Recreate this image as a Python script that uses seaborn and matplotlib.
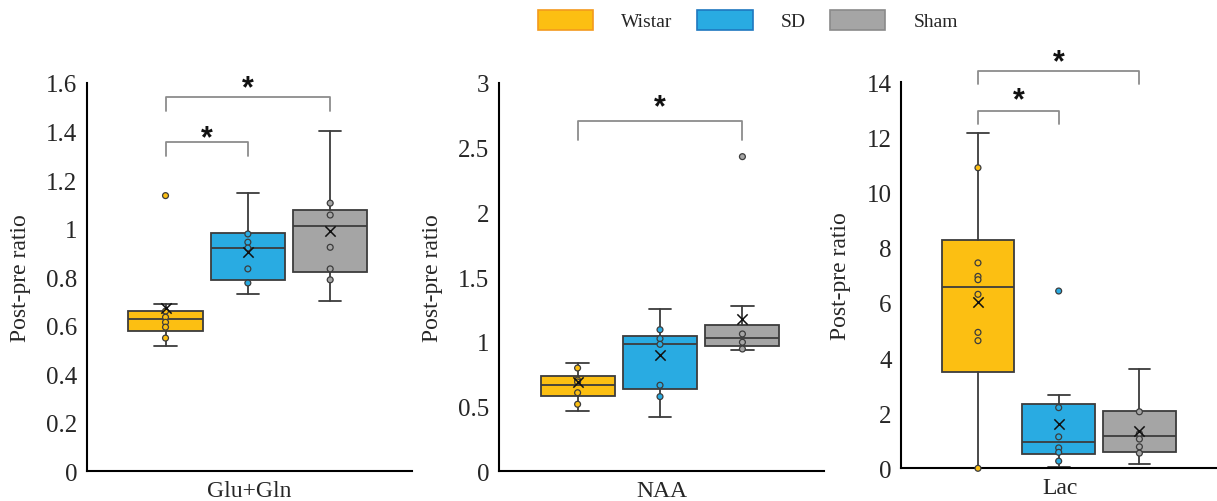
import numpy as np
import pandas as pd
import matplotlib
matplotlib.use("Agg")
import matplotlib.pyplot as plt
from matplotlib.patches import Patch
from matplotlib.ticker import FuncFormatter, MultipleLocator
import seaborn as sns

groups = ["Wistar", "SD", "Sham"]
box_colors = ["#FCBF12", "#29ABE2", "#A5A5A5"]
legend_edges = ["#F39A1E", "#1F78C0", "#8A8A8A"]
metabolites = ["Glu+Gln", "NAA", "Lac"]

# box statistics (Excel style), order: Wistar, SD, Sham
glx_low = [0.515, 0.730, 0.701]
glx_q1 = [0.580, 0.790, 0.823]
glx_med = [0.628, 0.919, 1.011]
glx_q3 = [0.662, 0.981, 1.077]
glx_high = [0.689, 1.148, 1.404]
glx_mean = [0.672, 0.905, 0.992]

naa_low = [0.469, 0.422, 0.940]
naa_q1 = [0.579, 0.639, 0.966]
naa_med = [0.667, 0.986, 1.028]
naa_q3 = [0.739, 1.046, 1.131]
naa_high = [0.840, 1.252, 1.278]
naa_mean = [0.688, 0.896, 1.179]

lac_low = [0.0, 0.05, 0.15]
lac_q1 = [3.49, 0.51, 0.60]
lac_med = [6.58, 0.95, 1.18]
lac_q3 = [8.29, 2.32, 2.07]
lac_high = [12.17, 2.67, 3.59]
lac_mean = [6.02, 1.60, 1.36]

# individual points (inner points and outliers)
glx_wistar = [1.136, 0.660, 0.635, 0.614, 0.594, 0.549]
glx_sd = [0.978, 0.944, 0.920, 0.834, 0.776]
glx_sham = [1.105, 1.056, 0.923, 0.834, 0.789]

naa_wistar = [0.798, 0.705, 0.690, 0.607, 0.518]
naa_sd = [1.094, 1.025, 0.981, 0.665, 0.577]
naa_sham = [2.431, 1.061, 0.997, 0.945]

lac_wistar = [10.9, 7.45, 6.96, 6.84, 6.31, 4.93, 4.63, 0.0]
lac_sd = [6.43, 2.20, 1.14, 0.74, 0.58, 0.26]
lac_sham = [2.05, 1.26, 1.06, 0.78, 0.55]

# significance brackets: (group a, group b, bar height, end height, star height)
glx_brackets = [(0, 1, 1.356, 1.300, 1.407), (0, 2, 1.544, 1.486, 1.610)]
naa_brackets = [(0, 2, 2.707, 2.560, 2.872)]
lac_brackets = [(0, 1, 12.97, 12.49, 13.64), (0, 2, 14.40, 13.94, 15.0)]

panels = [
    dict(name="Glu+Gln", low=glx_low, q1=glx_q1, med=glx_med, q3=glx_q3, high=glx_high,
         mean=glx_mean, pts=[glx_wistar, glx_sd, glx_sham], brackets=glx_brackets,
         ymax=1.6, step=0.2, rect=[87.3, 472.3, 324.4, 388.3]),
    dict(name="NAA", low=naa_low, q1=naa_q1, med=naa_med, q3=naa_q3, high=naa_high,
         mean=naa_mean, pts=[naa_wistar, naa_sd, naa_sham], brackets=naa_brackets,
         ymax=3, step=0.5, rect=[499.3, 472.3, 324.7, 388.3]),
    dict(name="Lac", low=lac_low, q1=lac_q1, med=lac_med, q3=lac_q3, high=lac_high,
         mean=lac_mean, pts=[lac_wistar, lac_sd, lac_sham], brackets=lac_brackets,
         ymax=14, step=2, rect=[901.3, 469.3, 318.0, 386.0]),
]

sns.set_theme(style="white")
plt.rcParams["font.family"] = ["Liberation Serif", "DejaVu Serif"]

W, H = 1217, 502
fig = plt.figure(figsize=(W / 100, H / 100), dpi=100)
positions = [1, 2, 3]
edge = "#3C3C3C"

for p in panels:
    x0, ybot, w, h = p["rect"]
    ax = fig.add_axes([x0 / W, (H - ybot) / H, w / W, h / H])

    stats = []
    for i in range(3):
        stats.append(dict(whislo=p["low"][i], q1=p["q1"][i], med=p["med"][i],
                          q3=p["q3"][i], whishi=p["high"][i], fliers=[]))
    bp = ax.bxp(stats, positions=positions, widths=0.9, capwidths=0.27,
                patch_artist=True, showfliers=False,
                boxprops=dict(edgecolor=edge, linewidth=1.3),
                whiskerprops=dict(color=edge, linewidth=1.3),
                capprops=dict(color=edge, linewidth=1.3),
                medianprops=dict(color=edge, linewidth=1.3))
    for patch, c in zip(bp["boxes"], box_colors):
        patch.set_facecolor(c)

    rows = []
    for g, vals in zip(groups, p["pts"]):
        for v in vals:
            rows.append({"group": g, "pos": positions[groups.index(g)], "value": v})
    df = pd.DataFrame(rows)
    sns.scatterplot(data=df, x="pos", y="value", hue="group", hue_order=groups,
                    palette=dict(zip(groups, box_colors)), s=18, edgecolor=edge,
                    linewidth=0.9, legend=False, ax=ax, zorder=4, clip_on=False)
    ax.scatter(positions, p["mean"], marker="x", color="#111111", s=55,
               linewidths=1.1, zorder=5)

    for a, b, yb, ye, ys in p["brackets"]:
        xa, xb = positions[a], positions[b]
        ax.plot([xa, xa, xb, xb], [ye, yb, yb, ye], color="#8C8C8C", lw=1.3,
                clip_on=False, zorder=3)
        ax.annotate("*", xy=((xa + xb) / 2, ys), xytext=(0, -8),
                    textcoords="offset pixels", ha="center", va="center",
                    fontsize=22, fontweight="bold", family="Liberation Sans",
                    color="#111111", annotation_clip=False)

    ax.set_xlim(0.05, 3.99)
    ax.set_ylim(0, p["ymax"])
    ax.yaxis.set_major_locator(MultipleLocator(p["step"]))
    ax.yaxis.set_major_formatter(FuncFormatter(lambda v, _: f"{v:g}"))
    ax.set_xticks([])
    ax.set_xlabel(p["name"], fontsize=17, labelpad=6)
    ax.set_ylabel("Post-pre ratio", fontsize=17, labelpad=11)
    ax.tick_params(axis="y", length=0, pad=7, labelsize=18)
    for s in ["top", "right"]:
        ax.spines[s].set_visible(False)
    for s in ["left", "bottom"]:
        ax.spines[s].set_color("black")
        ax.spines[s].set_linewidth(1.5)

handles = [Patch(facecolor=c, edgecolor=e, linewidth=1.2, label=g)
           for g, c, e in zip(groups, box_colors, legend_edges)]
fig.legend(handles=handles, loc="center", bbox_to_anchor=(0.6146, 0.958), ncol=3,
           frameon=False, fontsize=14, handlelength=2.85, handleheight=1.2,
           handletextpad=1.45, columnspacing=1.25)

fig.savefig("out.png", dpi=100)
